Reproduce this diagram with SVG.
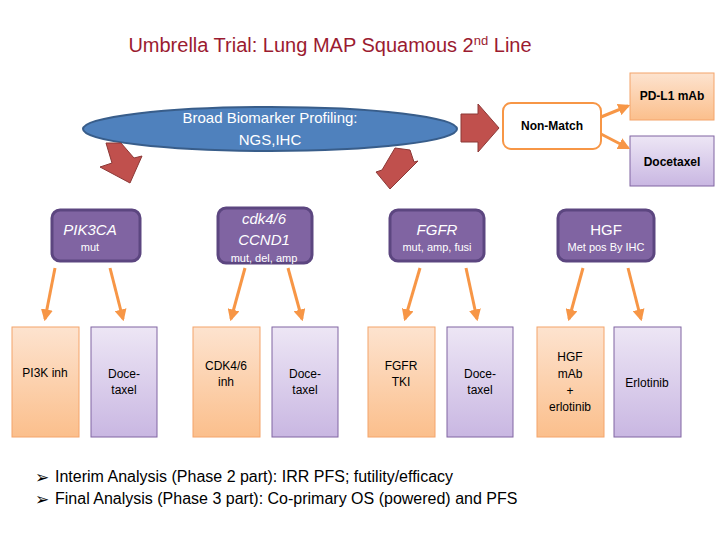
<svg xmlns="http://www.w3.org/2000/svg" width="720" height="540" viewBox="0 0 720 540">
<defs>
<linearGradient id="og" x1="0" y1="0" x2="0" y2="1"><stop offset="0" stop-color="#fde3cf"/><stop offset="1" stop-color="#fbbf8c"/></linearGradient>
<linearGradient id="pg" x1="0" y1="0" x2="0" y2="1"><stop offset="0" stop-color="#ede6f5"/><stop offset="1" stop-color="#c9b7e2"/></linearGradient>
<marker id="ah" viewBox="0 0 10 10" refX="8" refY="5" markerWidth="4" markerHeight="4" orient="auto"><path d="M0,0 L10,5 L0,10 z" fill="#f79646"/></marker>
<style>
text{font-family:"Liberation Sans Narrow","Liberation Sans",Arial,sans-serif}
.ob{fill:url(#og);stroke:#f4a46a;stroke-width:1}
.pb{fill:url(#pg);stroke:#8064a2;stroke-width:1}
.mk{fill:#8064a2;stroke:#5c4680;stroke-width:3}
.wt{fill:#fff;text-anchor:middle}
.bt{fill:#000;text-anchor:middle;font-size:12px;font-stretch:condensed}
.con line{stroke:#f79646;stroke-width:3;marker-end:url(#ah)}
.ra{fill:#c0504d;stroke:#8c3836;stroke-width:1}
</style>
</defs>
<rect width="720" height="540" fill="#fff"/>
<text x="330" y="52" font-size="20" fill="#9b1b30" text-anchor="middle">Umbrella Trial: Lung MAP Squamous 2<tspan font-size="13" dy="-7">nd</tspan><tspan dy="7"> Line</tspan></text>

<g id="profiling"><ellipse cx="270" cy="129" rx="187" ry="22" fill="#4f81bd" stroke="#385d8a" stroke-width="2"/>
<text class="wt" x="270" y="123" font-size="15">Broad Biomarker Profiling:</text><text class="wt" x="270" y="145" font-size="15">NGS,IHC</text></g>

<g id="red-arrows">
<path class="ra" d="M106,143 L121,143 L134,158 L142,156 L130,183 L100,167 L112,163 Z"/>
<path class="ra" d="M395,148 L410,150 L414,162 L418,161 L390,189 L376,172 L382,170 Z"/>
<path class="ra" d="M461,114 L478,114 L478,104 L499,128 L478,152 L478,142 L461,142 Z"/>
</g>

<g id="nonmatch"><rect x="503" y="103" width="98" height="46" rx="8" fill="#fff" stroke="#f79646" stroke-width="2"/><text class="bt" x="552" y="130" font-weight="bold">Non-Match</text></g>
<g id="pdl1"><rect class="ob" x="630" y="73" width="84" height="47"/><text class="bt" x="672" y="100" font-weight="bold">PD-L1 mAb</text></g>
<g id="docetaxel-nm"><rect class="pb" x="630" y="136" width="84" height="50"/><text class="bt" x="672" y="166" font-weight="bold">Docetaxel</text></g>

<g id="pik3ca"><rect class="mk" x="52" y="210" width="88" height="51" rx="8"/><text class="wt" x="90" y="235" font-size="15" font-style="italic">PIK3CA</text><text class="wt" x="90" y="251" font-size="11">mut</text></g>
<g id="cdk"><rect class="mk" x="218" y="208" width="94" height="55" rx="8"/><text class="wt" x="264" y="224" font-size="15" font-style="italic">cdk4/6</text><text class="wt" x="264" y="245" font-size="15" font-style="italic">CCND1</text><text class="wt" x="264" y="262" font-size="11">mut, del, amp</text></g>
<g id="fgfr"><rect class="mk" x="390" y="210" width="94" height="51" rx="8"/><text class="wt" x="437" y="235" font-size="15" font-style="italic">FGFR</text><text class="wt" x="437" y="251" font-size="11">mut, amp, fusi</text></g>
<g id="hgf"><rect class="mk" x="558" y="210" width="96" height="51" rx="8"/><text class="wt" x="606" y="235" font-size="15">HGF</text><text class="wt" x="606" y="251" font-size="11">Met pos By IHC</text></g>

<g class="con" id="connectors">
<line x1="601" y1="117" x2="628" y2="106"/>
<line x1="601" y1="134" x2="628" y2="148"/>
<line x1="55" y1="268" x2="45" y2="319"/>
<line x1="110" y1="268" x2="123" y2="319"/>
<line x1="245" y1="268" x2="231" y2="319"/>
<line x1="288" y1="268" x2="302" y2="319"/>
<line x1="420" y1="268" x2="405" y2="319"/>
<line x1="466" y1="268" x2="477" y2="319"/>
<line x1="583" y1="268" x2="569" y2="319"/>
<line x1="628" y1="268" x2="641" y2="319"/>
</g>

<g id="pi3k"><rect class="ob" x="12" y="327" width="67" height="110"/><text class="bt" x="45" y="377">PI3K inh</text></g>
<g id="doce1"><rect class="pb" x="91" y="327" width="66" height="110"/><text class="bt" x="124" y="378">Doce-</text><text class="bt" x="124" y="394">taxel</text></g>
<g id="cdkinh"><rect class="ob" x="193" y="327" width="67" height="110"/><text class="bt" x="226" y="370">CDK4/6</text><text class="bt" x="226" y="386">inh</text></g>
<g id="doce2"><rect class="pb" x="272" y="327" width="66" height="110"/><text class="bt" x="305" y="378">Doce-</text><text class="bt" x="305" y="394">taxel</text></g>
<g id="fgfrtki"><rect class="ob" x="368" y="327" width="67" height="110"/><text class="bt" x="401" y="370">FGFR</text><text class="bt" x="401" y="386">TKI</text></g>
<g id="doce3"><rect class="pb" x="447" y="327" width="66" height="110"/><text class="bt" x="480" y="378">Doce-</text><text class="bt" x="480" y="394">taxel</text></g>
<g id="hgfmab"><rect class="ob" x="537" y="327" width="67" height="110"/><text class="bt" x="570" y="361">HGF</text><text class="bt" x="570" y="378">mAb</text><text class="bt" x="570" y="395">+</text><text class="bt" x="570" y="411">erlotinib</text></g>
<g id="erlotinib"><rect class="pb" x="614" y="327" width="67" height="110"/><text class="bt" x="647" y="387">Erlotinib</text></g>

<g id="notes">
<text x="35" y="483" font-family="DejaVu Sans,sans-serif" font-size="17">➢</text>
<text x="55" y="482" style="font-family:'Liberation Sans',Arial,sans-serif" font-size="16">Interim Analysis (Phase 2 part): IRR PFS; futility/efficacy</text>
<text x="35" y="505" font-family="DejaVu Sans,sans-serif" font-size="17">➢</text>
<text x="55" y="504" style="font-family:'Liberation Sans',Arial,sans-serif" font-size="16">Final Analysis (Phase 3 part): Co-primary OS (powered) and PFS</text>
</g>
</svg>
